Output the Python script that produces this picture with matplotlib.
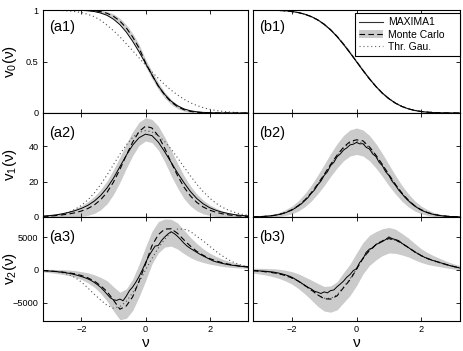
# -*- coding: utf-8 -*-
# Minkowski functionals v0, v1, v2 : MAXIMA1 vs Monte Carlo vs Gaussian theory

import numpy as np
import matplotlib
matplotlib.use('Agg')
import matplotlib.pyplot as plt
from matplotlib.lines import Line2D
from matplotlib.patches import Patch

plt.rcParams['font.family'] = ['Liberation Sans', 'DejaVu Sans']
plt.rcParams['mathtext.fontset'] = 'custom'
plt.rcParams['mathtext.rm'] = 'Liberation Sans'
plt.rcParams['mathtext.default'] = 'regular'

#%% data
# threshold grids
nu = np.linspace(-3.2, 3.2, 33)        # step 0.2
nu_fine = np.linspace(-3.2, 3.2, 65)   # step 0.1

# (a1) v0
a1_maxima = [1.000, 1.000, 1.000, 1.000, 0.999, 0.999, 0.997, 0.993, 0.985, 0.971, 0.948, 0.911, 0.858,
             0.786, 0.696, 0.593, 0.483, 0.372, 0.262, 0.180, 0.115, 0.070, 0.040, 0.022, 0.012, 0.006,
             0.003, 0.002, 0.001, 0.001, 0.000, 0.000, 0.000]
a1_mc = [1.000, 1.000, 1.000, 1.000, 1.000, 1.000, 0.999, 0.997, 0.993, 0.984, 0.968, 0.939, 0.893,
         0.826, 0.738, 0.630, 0.488, 0.370, 0.262, 0.174, 0.107, 0.061, 0.032, 0.016, 0.007, 0.003,
         0.001, 0.000, 0.000, 0.000, 0.000, 0.000, 0.000]
a1_lo = [0.999, 0.999, 0.999, 0.999, 0.999, 0.998, 0.996, 0.992, 0.985, 0.972, 0.951, 0.917, 0.866,
         0.795, 0.704, 0.594, 0.452, 0.335, 0.229, 0.145, 0.083, 0.042, 0.018, 0.006, 0.000, 0.000,
         0.000, 0.000, 0.000, 0.000, 0.000, 0.000, 0.000]
a1_hi = [1.001, 1.001, 1.001, 1.001, 1.001, 1.002, 1.002, 1.002, 1.001, 0.996, 0.985, 0.961, 0.920,
         0.857, 0.772, 0.666, 0.524, 0.405, 0.295, 0.203, 0.131, 0.080, 0.046, 0.026, 0.014, 0.008,
         0.004, 0.003, 0.001, 0.001, 0.001, 0.001, 0.001]
a1_thr = [0.999, 0.998, 0.997, 0.995, 0.991, 0.985, 0.975, 0.958, 0.935, 0.900, 0.853, 0.800, 0.740,
          0.672, 0.605, 0.535, 0.465, 0.400, 0.335, 0.276, 0.222, 0.175, 0.134, 0.100, 0.073, 0.052,
          0.036, 0.024, 0.016, 0.010, 0.006, 0.004, 0.002]

# (a2) v1
a2_maxima = [0.5, 0.8, 1.2, 1.8, 2.6, 3.6, 4.9, 6.6, 9.0, 12.2, 16.5, 22.0, 28.5, 35.0, 40.8, 45.0, 47.0,
             46.2, 42.5, 37.0, 31.0, 25.0, 19.5, 14.5, 10.5, 7.5, 5.3, 3.8, 2.7, 1.9, 1.3, 0.9, 0.6]
a2_mc = [0.3, 0.5, 0.8, 1.2, 1.7, 2.4, 3.4, 4.8, 6.8, 9.8, 14.0, 19.8, 27.0, 35.0, 42.5, 48.5, 51.5,
         50.5, 46.0, 39.0, 31.0, 23.5, 17.0, 12.0, 8.3, 5.7, 3.9, 2.7, 1.8, 1.2, 0.8, 0.5, 0.3]
a2_lo = [0.0, 0.0, 0.0, 0.0, 0.0, 0.1, 0.4, 0.9, 2.0, 4.1, 7.5, 12.8, 19.6, 27.5, 34.8, 40.6, 43.1,
         42.2, 38.0, 31.3, 23.5, 16.5, 10.5, 6.3, 3.5, 1.8, 0.9, 0.4, 0.1, 0.0, 0.0, 0.0, 0.0]
a2_hi = [0.6, 1.0, 1.6, 2.4, 3.4, 4.7, 6.4, 8.7, 11.6, 15.5, 20.5, 26.8, 34.0, 41.5, 48.4, 53.8, 56.3,
         55.4, 51.6, 45.3, 37.9, 30.5, 23.5, 17.7, 13.1, 9.6, 6.9, 5.0, 3.5, 2.4, 1.6, 1.0, 0.6]
a2_thr = [0.3, 0.5, 1.0, 1.7, 2.7, 4.4, 6.6, 9.7, 13.6, 18.4, 23.9, 29.7, 35.6, 40.9, 45.2, 48.0, 49.0,
          48.3, 46.1, 42.8, 38.5, 33.6, 28.4, 23.4, 18.6, 14.4, 10.8, 7.8, 5.5, 3.8, 2.5, 1.6, 1.0]

# (a3) v2
a3_maxima = [-100, -130, -160, -200, -240, -290, -350, -420, -500, -600, -720, -860, -1010, -1170, -1360,
             -1600, -1900, -2250, -2650, -3150, -3700, -4250, -4550, -4650, -4450, -4700, -4000, -3150,
             -2600, -1850, -1000, 0, 1100, 2100, 2900, 3650, 3750, 4500, 5050, 5500, 5850, 5550, 5150,
             4650, 4100, 3650, 3300, 3000, 2700, 2400, 2150, 1900, 1650, 1400, 1250, 1120, 1000, 900,
             800, 730, 660, 600, 540, 500, 460]
a3_mc = [-100, -150, -220, -310, -430, -600, -850, -1200, -1700, -2400, -3300, -4600, -6000, -5500, -4100,
         -1700, 900, 3700, 5400, 6250, 6300, 5600, 4600, 3650, 2850, 2250, 1750, 1400, 1100, 880, 700,
         570, 460]
a3_lo = [-300, -400, -520, -670, -850, -1100, -1450, -1960, -2630, -3570, -4750, -6250, -7600, -7400,
         -6200, -4100, -1700, 900, 2600, 3500, 3650, 3200, 2500, 1900, 1450, 1150, 900, 720, 550, 430,
         350, 290, 240]
a3_hi = [100, 100, 80, 50, -10, -100, -250, -440, -730, -1130, -1650, -2550, -3400, -2900, -1400, 900,
         3500, 5900, 7400, 7800, 7750, 7200, 6100, 5000, 4050, 3250, 2600, 2080, 1650, 1330, 1050, 850,
         680]
a3_thr = [-100, -160, -260, -420, -700, -1150, -1850, -2750, -3700, -4600, -5400, -5850, -5600, -4800,
          -3500, -1850, 0, 1750, 3350, 4700, 5800, 6250, 6250, 5900, 5150, 4450, 3650, 2850, 2150, 1550,
          1050, 700, 450]

# (b1) v0
b1_maxima = [1.000, 1.000, 0.999, 0.998, 0.996, 0.993, 0.986, 0.976, 0.960, 0.937, 0.905, 0.862, 0.807,
             0.741, 0.665, 0.583, 0.498, 0.413, 0.332, 0.258, 0.193, 0.140, 0.097, 0.064, 0.041, 0.025,
             0.014, 0.008, 0.004, 0.002, 0.001, 0.000, 0.000]
b1_mc = [1.000, 0.999, 0.999, 0.998, 0.996, 0.992, 0.985, 0.975, 0.959, 0.936, 0.904, 0.861, 0.808,
         0.743, 0.668, 0.586, 0.500, 0.414, 0.332, 0.257, 0.192, 0.139, 0.096, 0.064, 0.041, 0.025,
         0.015, 0.008, 0.005, 0.002, 0.001, 0.001, 0.000]
b1_lo = [0.999, 0.999, 0.998, 0.997, 0.994, 0.990, 0.982, 0.971, 0.954, 0.930, 0.896, 0.851, 0.796,
         0.730, 0.654, 0.571, 0.485, 0.399, 0.318, 0.244, 0.180, 0.129, 0.088, 0.058, 0.036, 0.021,
         0.012, 0.006, 0.003, 0.001, 0.000, 0.000, 0.000]
b1_hi = [1.001, 1.001, 1.000, 0.999, 0.997, 0.994, 0.988, 0.979, 0.964, 0.942, 0.912, 0.871, 0.820,
         0.756, 0.682, 0.601, 0.515, 0.429, 0.346, 0.270, 0.204, 0.149, 0.104, 0.070, 0.046, 0.029,
         0.018, 0.010, 0.006, 0.003, 0.002, 0.002, 0.001]
b1_thr = [1.000, 0.999, 0.999, 0.998, 0.995, 0.991, 0.984, 0.973, 0.957, 0.934, 0.902, 0.860, 0.807,
          0.743, 0.669, 0.587, 0.500, 0.413, 0.331, 0.257, 0.193, 0.140, 0.098, 0.066, 0.043, 0.027,
          0.016, 0.009, 0.005, 0.003, 0.001, 0.001, 0.000]

# (b2) v1
b2_maxima = [0.10, 0.14, 0.21, 0.29, 0.41, 0.55, 0.76, 1.05, 1.4, 1.8, 2.4, 3.1, 3.9, 5.0, 6.3, 7.5, 9.3,
             11.0, 13.4, 15.3, 18.2, 20.3, 23.6, 25.6, 29.2, 31.0, 34.2, 35.8, 38.0, 39.2, 40.9, 41.3,
             42.3, 41.5, 41.6, 39.5, 38.6, 35.8, 34.3, 31.0, 29.1, 25.7, 23.6, 20.3, 18.1, 15.4, 13.3,
             11.1, 9.3, 7.6, 6.2, 5.0, 3.9, 3.1, 2.4, 1.8, 1.4, 1.05, 0.76, 0.55, 0.41, 0.29, 0.21,
             0.14, 0.10]
b2_mc = [0.10, 0.21, 0.42, 0.8, 1.4, 2.5, 4.1, 6.4, 9.6, 13.7, 18.6, 24.1, 29.8, 35.1, 39.6, 42.8, 43.8,
         43.2, 39.8, 35.1, 29.8, 24.1, 18.6, 13.7, 9.6, 6.4, 4.1, 2.5, 1.4, 0.8, 0.42, 0.21, 0.10]
b2_lo = [0.0, 0.0, 0.0, 0.05, 0.3, 0.9, 1.8, 3.4, 5.8, 9.0, 13.1, 17.8, 23.0, 27.8, 31.9, 34.6, 35.5,
         34.6, 31.9, 27.8, 23.0, 17.8, 13.1, 9.0, 5.8, 3.4, 1.8, 0.9, 0.3, 0.05, 0.0, 0.0, 0.0]
b2_hi = [0.3, 0.5, 0.9, 1.55, 2.5, 4.1, 6.2, 9.2, 13.2, 18.0, 23.7, 29.8, 36.0, 41.6, 46.3, 49.4, 50.5,
         49.4, 46.3, 41.6, 36.0, 29.8, 23.7, 18.0, 13.2, 9.2, 6.2, 4.1, 2.5, 1.55, 0.9, 0.5, 0.3]
b2_thr = [0.10, 0.21, 0.42, 0.8, 1.4, 2.5, 4.0, 6.3, 9.5, 13.5, 18.4, 23.8, 29.5, 34.7, 39.1, 42.0, 43.0,
          42.0, 39.1, 34.7, 29.5, 23.8, 18.4, 13.5, 9.5, 6.3, 4.0, 2.5, 1.4, 0.8, 0.42, 0.21, 0.10]

# (b3) v2
b3_maxima = [-100, -120, -140, -170, -200, -250, -300, -380, -480, -600, -740, -900, -1100, -1380, -1700,
             -2000, -2350, -2650, -2900, -3250, -3400, -3600, -3350, -3500, -3150, -3050, -2550, -2150,
             -1700, -1100, -700, -100, 200, 1150, 1700, 2700, 3200, 3350, 3900, 4100, 4350, 4650, 5050,
             4800, 4650, 4500, 4100, 3750, 3450, 3100, 2750, 2500, 2200, 1950, 1750, 1550, 1400, 1250,
             1100, 950, 800, 650, 520, 400, 300]
b3_mc = [-110, -180, -270, -400, -580, -850, -1200, -1700, -2350, -3050, -3800, -4400, -4450, -3950,
         -2700, -1500, 100, 1800, 3000, 3850, 4450, 4800, 4600, 4100, 3450, 2800, 2200, 1750, 1400, 1100,
         800, 550, 330]
b3_lo = [-490, -620, -770, -1000, -1280, -1670, -2150, -2820, -3650, -4570, -5550, -6280, -6450, -6100,
         -5000, -3900, -2400, -600, 700, 1530, 2200, 2600, 2550, 2300, 2000, 1550, 1150, 850, 650, 480,
         300, 150, 10]
b3_hi = [270, 260, 230, 200, 120, -30, -250, -580, -1050, -1530, -2050, -2520, -2450, -1800, -400, 900,
         2600, 4200, 5300, 5870, 6300, 6500, 6250, 5600, 4900, 4050, 3250, 2650, 2150, 1720, 1300, 950,
         650]
b3_thr = [-120, -190, -290, -420, -610, -880, -1250, -1750, -2400, -3100, -3800, -4300, -4350, -3800,
          -2600, -1350, 150, 1750, 3000, 3900, 4500, 4750, 4550, 4050, 3400, 2750, 2150, 1700, 1350, 1050,
          780, 540, 330]

#%% layout (pixels of a 463x351 canvas)
W, H = 463.0, 351.0
col_left = [43, 253]
col_width = [205, 207]
row_top = [10, 113, 217]
row_bot = [113, 217, 321]

ylims = [(0, 1), (0, 59), (-7800, 8100)]
yticks = [[0, 0.5, 1], [0, 20, 40], [-5000, 0, 5000]]
yticklabels = [['0', '0.5', '1'], ['0', '20', '40'], ['\u22125000', '0', '5000']]
ylabels = ['v$_0$(\u03bd)', 'v$_1$(\u03bd)', 'v$_2$(\u03bd)']

panels = {
    (0, 0): ('(a1)', nu, a1_maxima, a1_mc, a1_lo, a1_hi, a1_thr),
    (1, 0): ('(a2)', nu, a2_maxima, a2_mc, a2_lo, a2_hi, a2_thr),
    (2, 0): ('(a3)', nu_fine, a3_maxima, a3_mc, a3_lo, a3_hi, a3_thr),
    (0, 1): ('(b1)', nu, b1_maxima, b1_mc, b1_lo, b1_hi, b1_thr),
    (1, 1): ('(b2)', nu_fine, b2_maxima, b2_mc, b2_lo, b2_hi, b2_thr),
    (2, 1): ('(b3)', nu_fine, b3_maxima, b3_mc, b3_lo, b3_hi, b3_thr),
}

band_color = '#cbcbcb'
dash = (0, (5, 3))
dots = (0, (1, 2.5))

fig = plt.figure(figsize=(W / 100, H / 100), dpi=100)

for (r, c), (tag, xm, ym, mc, lo, hi, thr) in panels.items():
    ax = fig.add_axes([col_left[c] / W, 1 - row_bot[r] / H,
                       col_width[c] / W, (row_bot[r] - row_top[r]) / H])
    ax.fill_between(nu, lo, hi, color=band_color, lw=0, zorder=1)
    ax.plot(nu, thr, color='#505050', lw=0.8, ls=dots, zorder=2)
    ax.plot(nu, mc, color='k', lw=0.8, ls=dash, zorder=3)
    ax.plot(xm, ym, color='k', lw=0.7, zorder=4)

    ax.set_xlim(-3.2, 3.2)
    ax.set_ylim(*ylims[r])
    ax.set_xticks([-2, 0, 2])
    ax.set_yticks(yticks[r])
    ax.tick_params(direction='in', length=3, width=0.6, top=True, right=True,
                   labelsize=6.6, pad=3.2)
    for s in ax.spines.values():
        s.set_linewidth(0.8)

    if c == 0:
        ax.set_yticklabels(yticklabels[r])
        ax.set_ylabel(ylabels[r], fontsize=11)
        ax.yaxis.set_label_coords(-0.118, 0.5)
    else:
        ax.set_yticklabels([])
    if r == 2:
        ax.set_xticklabels(['\u22122', '0', '2'])
        ax.set_xlabel('\u03bd', fontsize=11, labelpad=1)
    else:
        ax.set_xticklabels([])

    ty = 0.905 if r == 0 else 0.875
    ax.text(0.03, ty, tag, transform=ax.transAxes, fontsize=10.5, va='top', ha='left')

    if (r, c) == (0, 1):
        handles = [Line2D([], [], color='#333333', lw=0.8),
                   (Patch(facecolor=band_color, edgecolor='none'),
                    Line2D([], [], color='k', lw=0.8, ls=dash)),
                   Line2D([], [], color='#666666', lw=0.8, ls=dots)]
        leg = ax.legend(handles, ['MAXIMA1', 'Monte Carlo', 'Thr. Gau.'],
                        loc='upper left', bbox_to_anchor=(0.493, 0.5, 0.506, 0.468),
                        mode='expand', borderaxespad=0,
                        fontsize=7.5, frameon=True, fancybox=False,
                        framealpha=1, edgecolor='k',
                        handlelength=2.3, handletextpad=0.5, labelspacing=0.2,
                        borderpad=0.4)
        leg.get_frame().set_linewidth(0.8)

fig.savefig('out.png', dpi=100)
